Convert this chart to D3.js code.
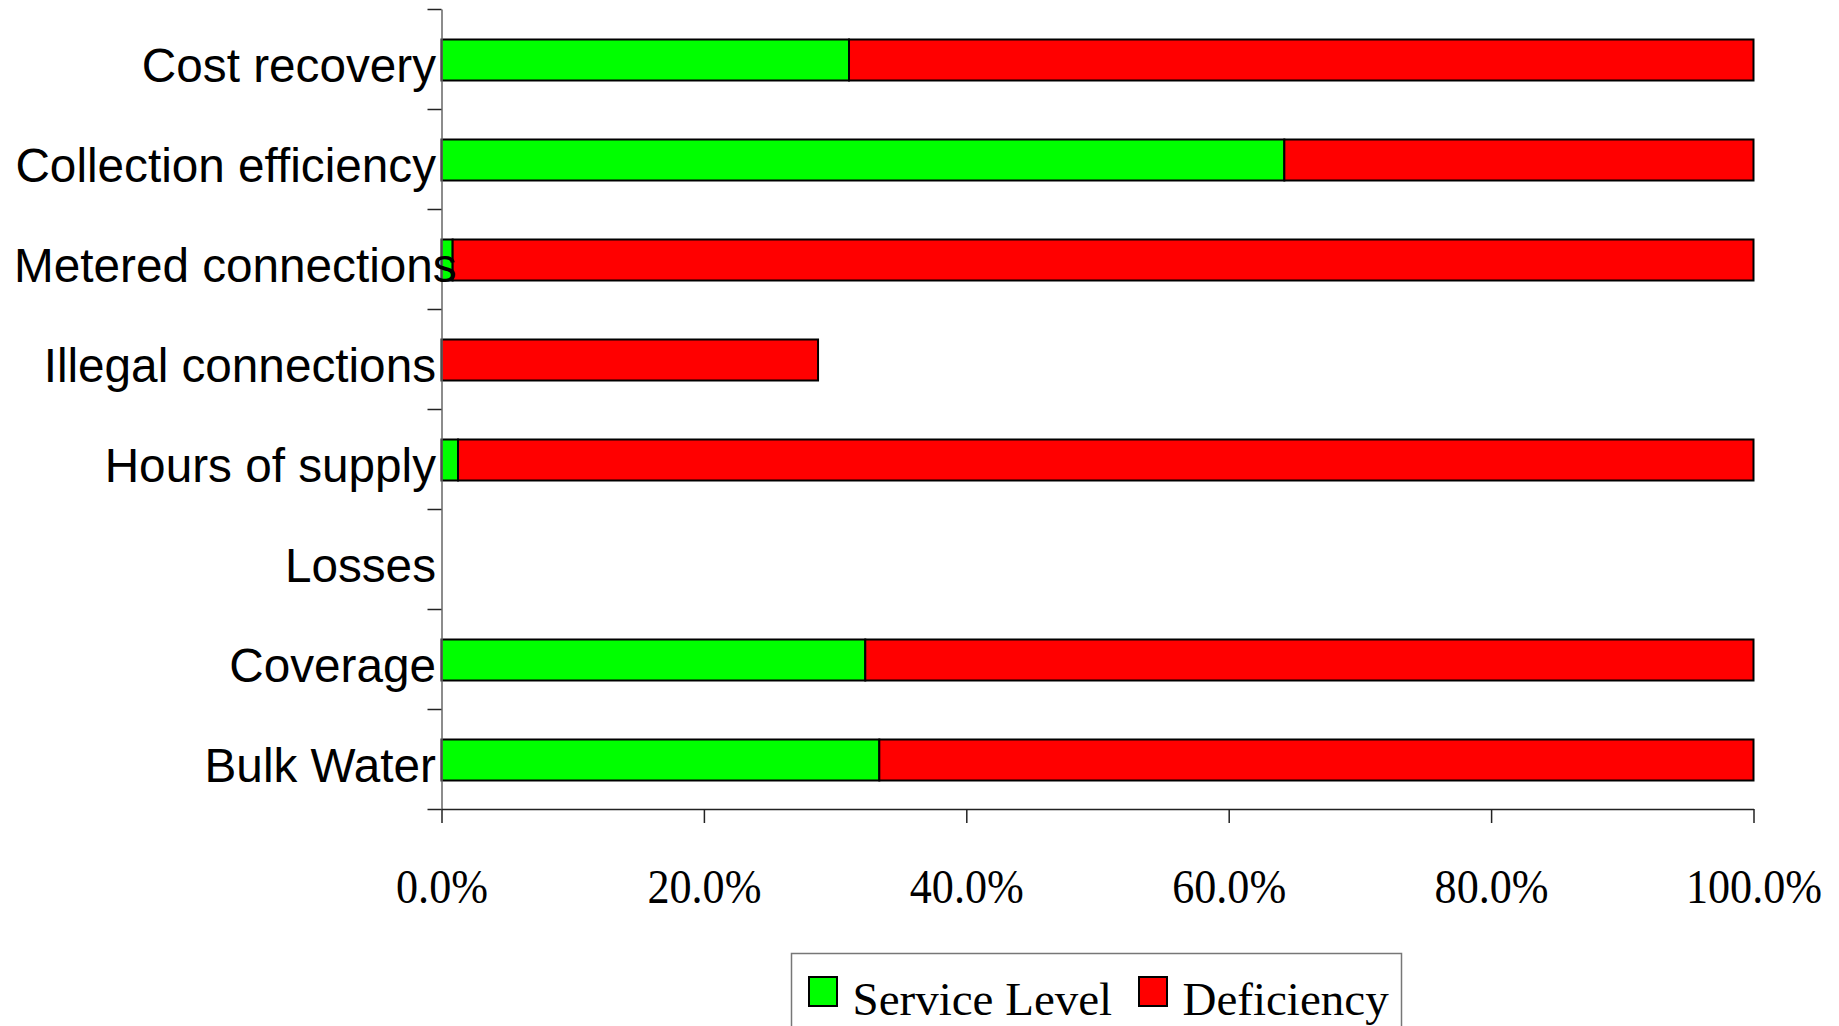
<!DOCTYPE html>
<html>
<head>
<meta charset="utf-8">
<script src="https://cdn.jsdelivr.net/npm/d3@7"></script>
<style>
  body { margin: 0; background: #fff; }
  svg { display: block; }
</style>
</head>
<body>
<svg id="chart"></svg>
<script>
// categories, top to bottom
const categories = [
    "Cost recovery",
    "Collection efficiency",
    "Metered connections",
    "Illegal connections",
    "Hours of supply",
    "Losses",
    "Coverage",
    "Bulk Water"
];
// shares (0..1)
const serviceLevel = [0.3106, 0.6424, 0.0085, 0, 0.0126, 0, 0.323, 0.3337];
const deficiency = [0.6894, 0.3576, 0.9915, 0.287, 0.9874, 0, 0.677, 0.6663];
const xTicks = [0, 0.2, 0.4, 0.6, 0.8, 1.0];
const seriesNames = ["Service Level", "Deficiency"];
const seriesColors = ["#00ff00", "#ff0000"];

const W = 1839, H = 1026;
const plot = { left: 441.5, right: 1753.5, top: 9, bottom: 809 };

const svg = d3.select("#chart").attr("width", W).attr("height", H);

const rows = categories.map((c, i) => ({
    name: c,
    service: serviceLevel[i],
    deficiency: deficiency[i]
}));
const stack = d3.stack().keys(["service", "deficiency"])(rows);

const x = d3.scaleLinear().domain([0, 1]).range([plot.left, plot.right]);
const y = d3.scaleBand()
    .domain(categories)
    .range([plot.top, plot.bottom])
    .paddingInner(0.59)
    .paddingOuter(0.295);

// bars
svg.append("g")
    .selectAll("g")
    .data(stack)
    .enter()
    .append("g")
    .attr("fill", (d, i) => seriesColors[i])
    .selectAll("rect")
    .data(d => d)
    .enter()
    .filter(d => d[1] - d[0] > 0)
    .append("rect")
    .attr("x", d => x(d[0]))
    .attr("y", d => y(d.data.name) + 1)
    .attr("width", d => x(d[1]) - x(d[0]))
    .attr("height", y.bandwidth())
    .attr("stroke", "#000")
    .attr("stroke-width", 2);

// y axis: ticks between categories
const yb = d3.scaleLinear().domain([0, categories.length]).range([plot.top, plot.bottom]);
const yAxis = svg.append("g")
    .attr("transform", `translate(${plot.left},0)`)
    .call(d3.axisLeft(yb).ticks(categories.length).tickSize(14).tickSizeOuter(0).tickFormat(""));
yAxis.select(".domain").attr("stroke", "#666").attr("stroke-width", 1.5);
yAxis.selectAll(".tick line").attr("stroke", "#222").attr("stroke-width", 1.5);

// category labels
svg.append("g")
    .selectAll("text")
    .data(categories)
    .enter()
    .append("text")
    .attr("y", d => y(d) + y.bandwidth() / 2 + 1)
    .attr("dy", "0.47em")
    .attr("font-family", "Liberation Sans, Arial, sans-serif")
    .attr("font-size", 47.7)
    .attr("fill", "#000")
    .text(d => d)
    .each(function() {
        const w = this.getComputedTextLength();
        d3.select(this).attr("x", Math.max(14, 436 - w));
    });

// x axis
const xAxis = svg.append("g")
    .attr("transform", `translate(0,${plot.bottom})`)
    .call(d3.axisBottom(x).tickValues(xTicks).tickSize(14).tickSizeOuter(0).tickFormat(d3.format(".1%")));
xAxis.select(".domain").attr("stroke", "#222").attr("stroke-width", 1.5);
xAxis.selectAll(".tick line").attr("stroke", "#222").attr("stroke-width", 1.5);
xAxis.selectAll(".tick text")
    .attr("x", 0)
    .attr("y", 94)
    .attr("dy", null)
    .attr("fill", "#000")
    .attr("font-family", "Liberation Serif, Times New Roman, serif")
    .attr("font-size", 48)
    .attr("transform", "scale(0.92,1)");

// legend
const legend = svg.append("g").attr("transform", "translate(791.5,953.5)");
legend.append("rect")
    .attr("width", 610)
    .attr("height", 110)
    .attr("fill", "#fff")
    .attr("stroke", "#777")
    .attr("stroke-width", 1.5);

const legendX = [17.5, 347.5];
const items = legend.selectAll("g.item")
    .data(seriesNames)
    .enter()
    .append("g")
    .attr("class", "item")
    .attr("transform", (d, i) => `translate(${legendX[i]},0)`);
items.append("rect")
    .attr("y", 23.5)
    .attr("width", 28)
    .attr("height", 29)
    .attr("fill", (d, i) => seriesColors[i])
    .attr("stroke", "#000")
    .attr("stroke-width", 2);
items.append("text")
    .attr("x", 43.5)
    .attr("y", 61)
    .attr("font-family", "Liberation Serif, Times New Roman, serif")
    .attr("font-size", 47)
    .attr("fill", "#000")
    .text(d => d);
</script>
</body>
</html>
